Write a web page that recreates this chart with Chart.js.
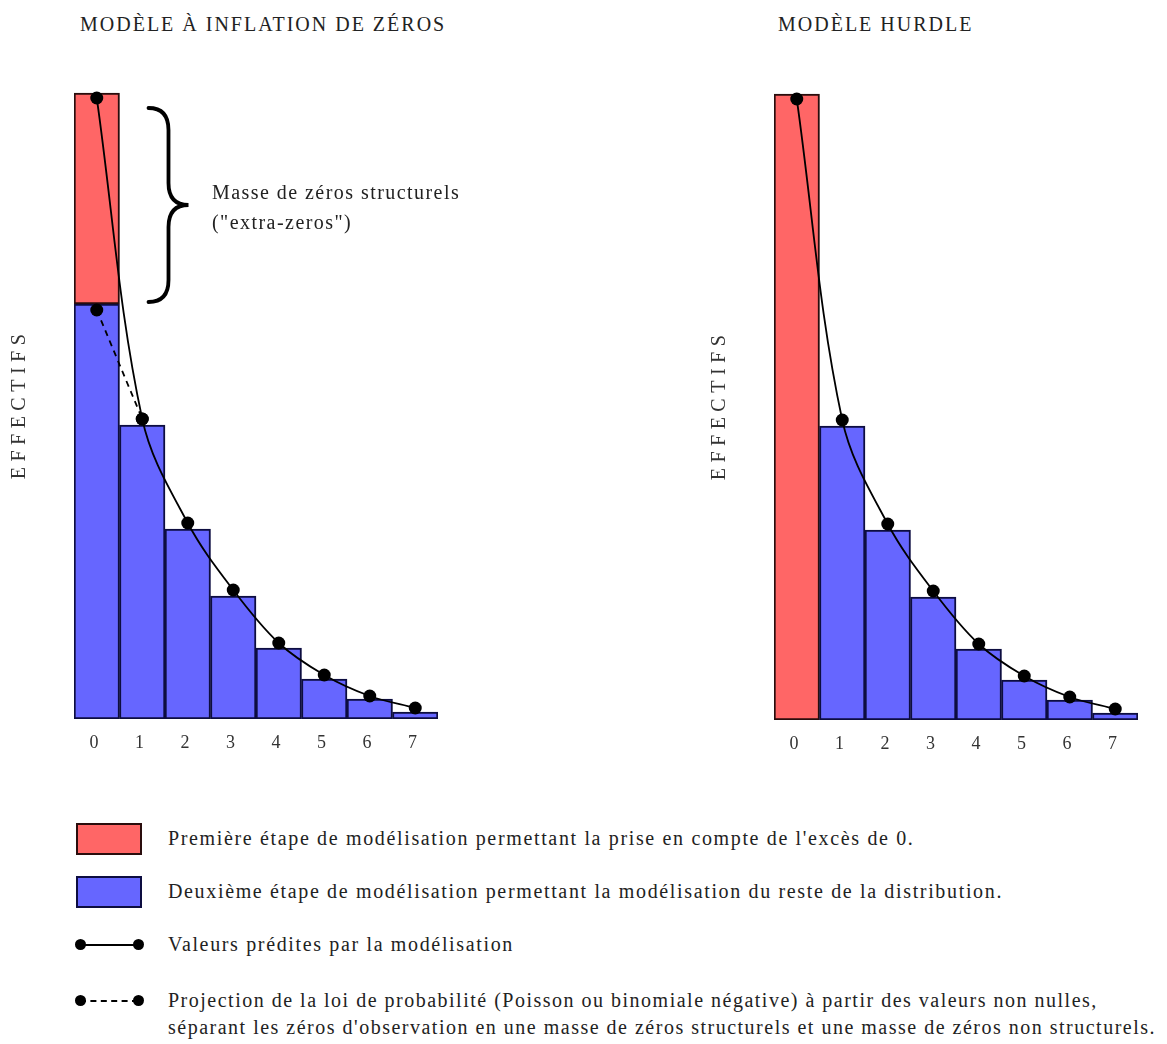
<!DOCTYPE html>
<html>
<head>
<meta charset="utf-8">
<script src="https://cdn.jsdelivr.net/npm/chart.js@4.4.1/dist/chart.umd.min.js"></script>
<style>
    body{
        margin:0;
        width:1167px;
        height:1044px;
        background:#ffffff;
        position:relative;
        overflow:hidden;
        font-family:"Liberation Serif", serif;
        color:#222222;
    }
    .box{ position:absolute; }
    .title{
        position:absolute;
        font-size:20px;
        letter-spacing:2px;
        line-height:24px;
    }
    .note{
        position:absolute;
        font-size:20px;
        letter-spacing:1.45px;
        line-height:30px;
        white-space:nowrap;
    }
    .legText{
        position:absolute;
        left:168px;
        font-size:20px;
        letter-spacing:1.65px;
        line-height:27px;
        white-space:nowrap;
    }
    .swatch{
        position:absolute;
        left:76px;
        width:66px;
        box-sizing:border-box;
        border:2px solid #2a0d0d;
    }
    .dot{
        position:absolute;
        width:11px;
        height:11px;
        border-radius:50%;
        background:#000000;
    }
    .seg{
        position:absolute;
        left:80px;
        width:58px;
        height:0;
    }
</style>
</head>
<body>

<div class="title" style="left:80px; top:12px;">MODÈLE À INFLATION DE ZÉROS</div>
<div class="title" style="left:778px; top:12px;">MODÈLE HURDLE</div>

<div class="box" style="left:0; top:0; width:480px; height:780px;">
    <canvas id="ziChart"></canvas>
</div>
<div class="box" style="left:700px; top:1px; width:480px; height:780px;">
    <canvas id="hurdleChart"></canvas>
</div>

<div class="note" style="left:212px; top:177px;">Masse de zéros structurels<br>("extra-zeros")</div>

<!-- legend -->
<div class="swatch" style="top:823px; height:32px; background:#ff6666;"></div>
<div class="legText" style="top:825px;">Première étape de modélisation permettant la prise en compte de l'excès de 0.</div>

<div class="swatch" style="top:876px; height:32px; background:#6666ff; border-color:#0d0d40;"></div>
<div class="legText" style="top:878px;">Deuxième étape de modélisation permettant la modélisation du reste de la distribution.</div>

<div class="seg" style="top:944px; border-top:2px solid #000;"></div>
<div class="dot" style="left:75px; top:939px;"></div>
<div class="dot" style="left:133px; top:939px;"></div>
<div class="legText" style="top:931px;">Valeurs prédites par la modélisation</div>

<div class="seg" style="top:1000px; border-top:2px dashed #000;"></div>
<div class="dot" style="left:75px; top:995px;"></div>
<div class="dot" style="left:133px; top:995px;"></div>
<div class="legText" style="top:987px; letter-spacing:1.5px;">Projection de la loi de probabilité (Poisson ou binomiale négative) à partir des valeurs non nulles,<br>séparant les zéros d'observation en une masse de zéros structurels et une masse de zéros non structurels.</div>

<script>

// Chart data (effectifs)
let categories = ["0", "1", "2", "3", "4", "5", "6", "7"];

// total observed zeros (red + blue part of bar 0)
let zeroTotal = 626;

// observed counts, bar 0 = non-structural zeros in the zero-inflated model
let observedCounts = [415, 294, 190, 123, 71, 40, 20, 7];

// predicted values (solid curve)
let predicted = [621, 300, 196, 129, 76, 44, 23, 11];

// projection of the count law onto zero (dashed segment)
let projected = [409, 300, null, null, null, null, null, null];

let yMax = 630;

let redFill = "#ff6666";
let blueFill = "#6666ff";


// zero-inflated: blue bars + red extra zeros stacked on bar 0
let ziBlue = observedCounts.slice();
let ziRed = categories.map(function(c, i){
    return i === 0 ? zeroTotal - observedCounts[0] : null;
});

// hurdle: bar 0 is entirely red
let hurdleRed = categories.map(function(c, i){
    return i === 0 ? zeroTotal : null;
});
let hurdleBlue = observedCounts.map(function(v, i){
    return i === 0 ? null : v;
});


// letter spacing for the axis title, reset before the marks
let spacingPlugin = {
    id: "spacing",
    beforeDraw: function(chart){
        chart.ctx.letterSpacing = "5.5px";
    },
    beforeDatasetsDraw: function(chart){
        chart.ctx.letterSpacing = "0px";
    }
};

// curly brace next to the red block
let bracePlugin = {
    id: "brace",
    afterDatasetsDraw: function(chart){
        let ctx = chart.ctx;
        let x = chart.scales.x;
        let y = chart.scales.y;

        let half = (x.getPixelForValue(1) - x.getPixelForValue(0)) / 2;
        let x0 = x.getPixelForValue(0) + half + 29;
        let x1 = x0 + 20;
        let x2 = x0 + 40;
        let ya = y.getPixelForValue(zeroTotal) + 15;
        let yb = y.getPixelForValue(observedCounts[0]) - 2;
        let ym = (ya + yb) / 2;
        let r = 22;

        ctx.save();
        ctx.strokeStyle = "#000000";
        ctx.lineWidth = 3.8;
        ctx.lineCap = "round";
        ctx.beginPath();
        ctx.moveTo(x0, ya);
        ctx.quadraticCurveTo(x1, ya, x1, ya + r);
        ctx.lineTo(x1, ym - r);
        ctx.quadraticCurveTo(x1, ym, x2, ym);
        ctx.quadraticCurveTo(x1, ym, x1, ym + r);
        ctx.lineTo(x1, yb - r);
        ctx.quadraticCurveTo(x1, yb, x0, yb);
        ctx.stroke();
        ctx.restore();
    }
};


function barSet(data, fill, edge){
    return {
        type: "bar",
        data: data,
        backgroundColor: fill,
        borderColor: edge,
        borderWidth: 2,
        borderSkipped: false,
        barPercentage: 1,
        categoryPercentage: 1,
        stack: "bars",
        order: 2
    };
}

function lineSet(data, dashed, stackName){
    return {
        type: "line",
        data: data,
        borderColor: "#000000",
        borderWidth: 1.8,
        borderDash: dashed ? [6, 5] : [],
        backgroundColor: "#000000",
        pointRadius: 6.5,
        pointBackgroundColor: "#000000",
        pointBorderWidth: 0,
        tension: 0.35,
        spanGaps: false,
        fill: false,
        stack: stackName,
        clip: false,
        order: 0
    };
}

function makeOptions(){
    return {
        responsive: true,
        maintainAspectRatio: false,
        animation: false,
        events: [],
        layout: {
            padding: { top: 89, left: 0, right: 42, bottom: 21 }
        },
        plugins: {
            legend: { display: false },
            tooltip: { enabled: false }
        },
        scales: {
            x: {
                stacked: true,
                grid: { display: false, drawTicks: false },
                border: { display: false },
                ticks: {
                    color: "#333333",
                    padding: 13,
                    font: { family: "Liberation Serif", size: 18 }
                },
                afterFit: function(scale){
                    scale.height = 40;
                }
            },
            y: {
                stacked: true,
                min: 0,
                max: yMax,
                grid: { display: false, drawTicks: false },
                border: { display: false },
                ticks: { display: false },
                title: {
                    display: true,
                    text: "EFFECTIFS",
                    color: "#333333",
                    padding: { top: 8, bottom: 0 },
                    font: { family: "Liberation Serif", size: 20 }
                },
                afterFit: function(scale){
                    scale.width = 74;
                }
            }
        }
    };
}


window.onload = function(){

    new Chart(document.getElementById("ziChart").getContext("2d"), {
        data: {
            labels: categories,
            datasets: [
                lineSet(predicted, false, "fit"),
                lineSet(projected, true, "proj"),
                barSet(ziBlue, blueFill, "#0d0d40"),
                barSet(ziRed, redFill, "#2a0d0d")
            ]
        },
        options: makeOptions(),
        plugins: [spacingPlugin, bracePlugin]
    });

    new Chart(document.getElementById("hurdleChart").getContext("2d"), {
        data: {
            labels: categories,
            datasets: [
                lineSet(predicted, false, "fit"),
                barSet(hurdleBlue, blueFill, "#0d0d40"),
                barSet(hurdleRed, redFill, "#2a0d0d")
            ]
        },
        options: makeOptions(),
        plugins: [spacingPlugin]
    });

};

</script>
</body>
</html>
